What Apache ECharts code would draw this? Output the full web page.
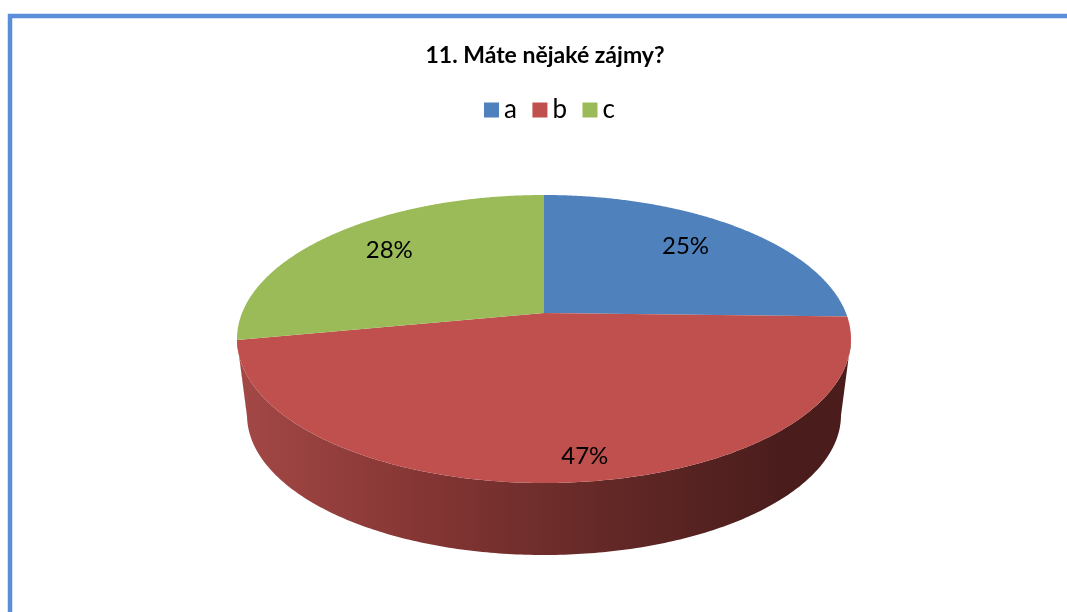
<!DOCTYPE html>
<html>
<head>
<meta charset="utf-8">
<script src="https://cdn.jsdelivr.net/npm/echarts@6/dist/echarts.min.js"></script>
<style>
  html, body { margin: 0; padding: 0; background: #fff; }
  #main { width: 1067px; height: 612px; }
</style>
</head>
<body>
<div id="main"></div>
<script>
const titleText = '11. Máte nějaké zájmy?';
const categories = ['a', 'b', 'c'];
const shares = [25.4, 46.6, 28];

const colors = ['#4f81bd', '#c0504d', '#9bbb59'];
const total = shares.reduce((s, v) => s + v, 0);

// top face and lower rim of the disc, as seen on screen
const faceEllipse = { cx: 544, cy: 339, rx: 307, ry: 144 };
const rimEllipse = { cx: 544, cy: 415, rx: 297, ry: 140 };
// perspective: disc centre shows above the middle of the ellipse
const k = 0.18;
const labelRadius = [0.73, 0.88, 0.73];
const labelOffset = [[-3, -2], [15, -2], [2, -3]];

function project(r, theta) {
  const u = r * Math.sin(theta);
  const v = r * Math.cos(theta);
  const d = 1 + k * v;
  return [u * Math.sqrt(1 - k * k) / d, (v + k) / d];
}

function toScreen(e, p) {
  return [e.cx + p[0] * e.rx, e.cy - p[1] * e.ry];
}

function sliceAngles(index) {
  let before = 0;
  for (let i = 0; i < index; i++) before += shares[i];
  return [before / total * Math.PI * 2, (before + shares[index]) / total * Math.PI * 2];
}

const wallGradient = new echarts.graphic.LinearGradient(240, 0, 780, 0, [
  { offset: 0, color: '#a34846' },
  { offset: 0.33, color: '#853634' },
  { offset: 0.67, color: '#642927' },
  { offset: 1, color: '#4a1d1c' }
], true);

function renderSlice(index) {
  return function (params, api) {
    const [a0, a1] = sliceAngles(index);
    const steps = 240;
    const face = [toScreen(faceEllipse, project(0, 0))];
    const wallTop = [];
    const wallBottom = [];
    for (let i = 0; i <= steps; i++) {
      const p = project(1, a0 + (a1 - a0) * i / steps);
      face.push(toScreen(faceEllipse, p));
      if (p[1] <= 0) {
        wallTop.push(toScreen(faceEllipse, p));
        wallBottom.unshift(toScreen(rimEllipse, p));
      }
    }
    const children = [];
    if (wallTop.length > 1) {
      children.push({
        type: 'polygon',
        shape: { points: wallTop.concat(wallBottom) },
        style: { fill: wallGradient }
      });
    }
    children.push({
      type: 'polygon',
      shape: { points: face },
      style: { fill: colors[index] }
    });
    const mid = toScreen(faceEllipse, project(labelRadius[index], (a0 + a1) / 2));
    children.push({
      type: 'text',
      x: mid[0] + labelOffset[index][0],
      y: mid[1] + labelOffset[index][1],
      style: {
        text: Math.round(api.value(0) / total * 100) + '%',
        fill: '#000',
        font: '24px Lato, "Noto Sans", sans-serif',
        align: 'center',
        verticalAlign: 'middle'
      }
    });
    return { type: 'group', children: children };
  };
}

const myChart = echarts.init(document.getElementById('main'));
myChart.setOption({
  animation: false,
  backgroundColor: '#fff',
  title: {
    text: titleText,
    left: 540,
    top: 39,
    textAlign: 'center',
    textStyle: {
      fontFamily: 'Lato, "Noto Sans", sans-serif',
      fontSize: 23,
      fontWeight: 'bold',
      color: '#000'
    }
  },
  legend: {
    data: categories,
    left: 479,
    top: 92,
    icon: 'rect',
    itemWidth: 15,
    itemHeight: 15,
    itemGap: 15.5,
    selectedMode: false,
    textStyle: {
      fontFamily: 'Lato, "Noto Sans", sans-serif',
      fontSize: 26,
      color: '#000'
    }
  },
  graphic: [{
    type: 'rect',
    silent: true,
    shape: { x: 10, y: 16, width: 1100, height: 700 },
    style: { fill: 'none', stroke: '#5a8eda', lineWidth: 4.5 }
  }],
  series: categories.map((name, i) => ({
    type: 'custom',
    name: name,
    coordinateSystem: 'none',
    itemStyle: { color: colors[i] },
    renderItem: renderSlice(i),
    data: [[shares[i]]]
  }))
});
</script>
</body>
</html>
